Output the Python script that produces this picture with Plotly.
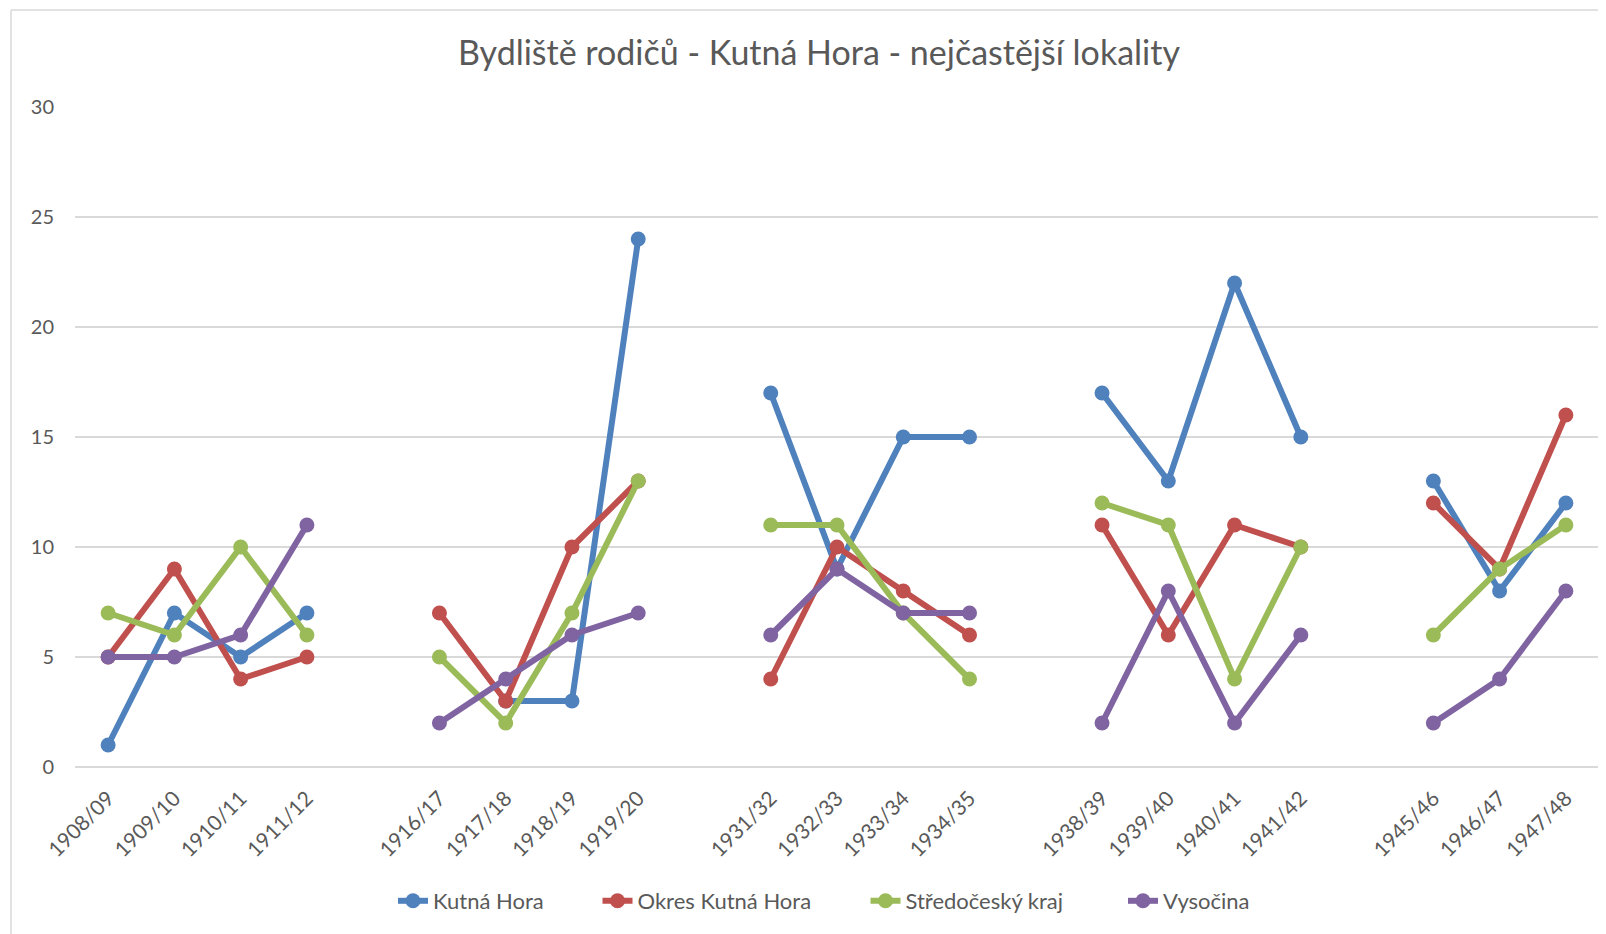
import plotly.graph_objects as go

categories = ["1908/09", "1909/10", "1910/11", "1911/12", "",
              "1916/17", "1917/18", "1918/19", "1919/20", "",
              "1931/32", "1932/33", "1933/34", "1934/35", "",
              "1938/39", "1939/40", "1940/41", "1941/42", "",
              "1945/46", "1946/47", "1947/48"]

kutna_hora = [1, 7, 5, 7, None,
              None, 3, 3, 24, None,
              17, 9, 15, 15, None,
              17, 13, 22, 15, None,
              13, 8, 12]
okres_kutna_hora = [5, 9, 4, 5, None,
                    7, 3, 10, 13, None,
                    4, 10, 8, 6, None,
                    11, 6, 11, 10, None,
                    12, 9, 16]
stredocesky_kraj = [7, 6, 10, 6, None,
                    5, 2, 7, 13, None,
                    11, 11, 7, 4, None,
                    12, 11, 4, 10, None,
                    6, 9, 11]
vysocina = [5, 5, 6, 11, None,
            2, 4, 6, 7, None,
            6, 9, 7, 7, None,
            2, 8, 2, 6, None,
            2, 4, 8]

series = [
    ("Kutná Hora", kutna_hora, "#4F81BD"),
    ("Okres Kutná Hora", okres_kutna_hora, "#C0504D"),
    ("Středočeský kraj", stredocesky_kraj, "#9BBB59"),
    ("Vysočina", vysocina, "#8064A2"),
]

x = list(range(len(categories)))

# page body has an 8px margin, so the figure is drawn 8px smaller
OFF = 8
W, H = 1606 - OFF, 934 - OFF
L, R, T, B = 75 - OFF, 7, 107 - OFF, 167
pw, ph = W - L - R, H - T - B

def px(xp):
    return (xp - OFF - L) / pw

def py(yp):
    return (H - B - (yp - OFF)) / ph

FONT = "Lato, Open Sans, sans-serif"
GREY = "#595959"

legend_ids = ["legend", "legend2", "legend3", "legend4"]
legend_centers = [471, 707, 967, 1189]  # reference pixel centres of the legend entries

fig = go.Figure()
for (name, vals, col), lid in zip(series, legend_ids):
    fig.add_trace(go.Scatter(
        x=x, y=vals, name=name, mode="lines+markers",
        line=dict(color=col, width=6),
        marker=dict(color=col, size=15),
        connectgaps=False, legend=lid,
    ))

layout_legends = {}
for lid, cx in zip(legend_ids, legend_centers):
    layout_legends[lid] = dict(
        orientation="h", xref="container", yref="container",
        x=(cx - OFF) / W, xanchor="center",
        y=1 - (901 - OFF) / H, yanchor="middle",
        font=dict(size=22, color=GREY, family=FONT),
        bgcolor="rgba(0,0,0,0)",
    )

fig.update_layout(
    width=W, height=H,
    margin=dict(l=L, r=R, t=T, b=B, autoexpand=False),
    paper_bgcolor="white", plot_bgcolor="white",
    font=dict(family=FONT, color=GREY),
    title=dict(text="Bydliště rodičů - Kutná Hora - nejčastější lokality",
               x=(819 - OFF) / W, xref="container", xanchor="center",
               y=1 - (53 - OFF) / H, yref="container", yanchor="middle",
               font=dict(size=34, color=GREY, family=FONT)),
    showlegend=True,
    xaxis=dict(
        range=[-0.5, len(categories) - 0.5],
        tickmode="array", tickvals=x, ticktext=categories,
        tickangle=-45, showgrid=False, zeroline=False,
        showline=False, ticks="",
        tickfont=dict(size=21, color=GREY),
        ticklabelstandoff=14,
        fixedrange=True,
    ),
    yaxis=dict(
        range=[0, 30], tickvals=[0, 5, 10, 15, 20, 25, 30],
        showgrid=True, gridcolor="#d9d9d9", gridwidth=1.5,
        zeroline=True, zerolinecolor="#d9d9d9", zerolinewidth=1.5,
        showline=False, ticks="",
        tickfont=dict(size=20, color=GREY),
        ticklabelstandoff=20,
    ),
    shapes=[
        dict(type="line", xref="paper", yref="paper",
             x0=px(11), x1=px(11), y0=py(10), y1=py(960),
             line=dict(color="#d9d9d9", width=1.5)),
        dict(type="line", xref="paper", yref="paper",
             x0=px(11), x1=px(1640), y0=py(10), y1=py(10),
             line=dict(color="#d9d9d9", width=1.5)),
    ],
    **layout_legends,
)

fig.write_html("out.html")
